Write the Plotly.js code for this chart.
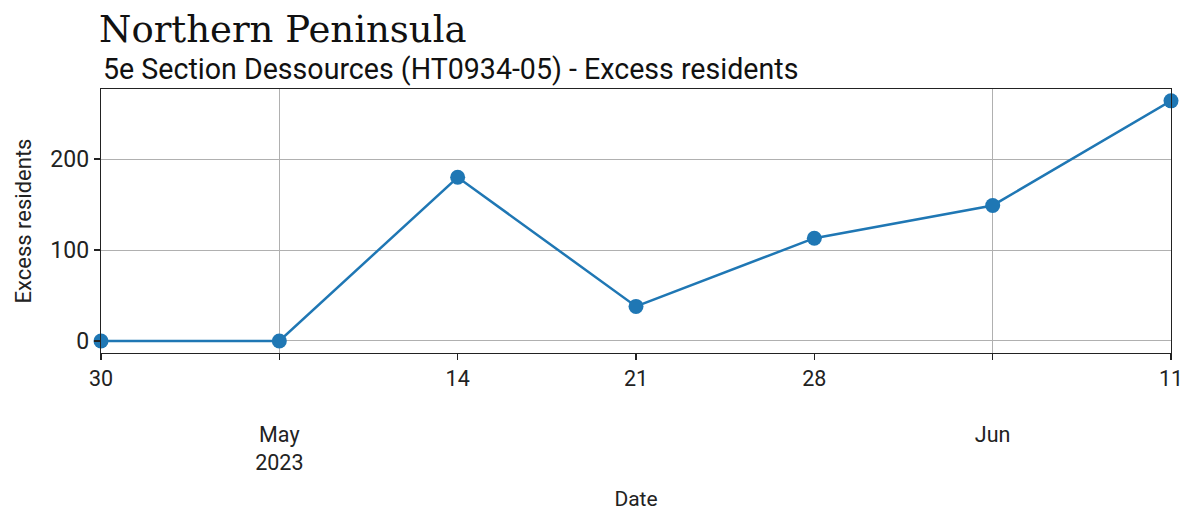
<!DOCTYPE html>
<html>
<head>
<meta charset="utf-8">
<script src="https://cdn.plot.ly/plotly-3.0.1.min.js"></script>
<style>html,body{margin:0;padding:0;background:#fff;}#chart{width:1190px;height:511px;}</style>
</head>
<body>
<div id="chart"></div>
<script>
const dates = ["2023-04-30", "2023-05-07", "2023-05-14", "2023-05-21", "2023-05-28", "2023-06-04", "2023-06-11"];
const excessResidents = [0, 0, 180, 38, 113, 149, 264];
const tickDates = ["2023-04-30", "2023-05-07", "2023-05-14", "2023-05-21", "2023-05-28", "2023-06-04", "2023-06-11"];
const tickLabels = ["30", "<br><br>May<br>2023", "14", "21", "28", "<br><br>Jun", "11"];
const majorGridDates = ["2023-05-07", "2023-06-04"];
const yTicks = [0, 100, 200];

const trace = {
  x: dates, y: excessResidents, type: "scatter", mode: "lines+markers",
  line: {color: "#1f77b4", width: 2.5},
  marker: {color: "#1f77b4", size: 15},
  cliponaxis: false, hoverinfo: "skip"
};

const layout = {
  width: 1190, height: 511,
  margin: {l: 101, r: 19, t: 89, b: 158},
  paper_bgcolor: "#fff", plot_bgcolor: "#fff",
  font: {family: "Roboto", size: 22, color: "#222"},
  showlegend: false,
  xaxis: {
    type: "date", range: ["2023-04-30", "2023-06-11"],
    tickmode: "array", tickvals: tickDates, ticktext: tickLabels,
    ticks: "outside", ticklen: 6, tickwidth: 1.2, tickcolor: "#222",
    showgrid: false, zeroline: false,
    showline: true, linecolor: "#222", linewidth: 1.3, mirror: true,
    tickfont: {family: "Roboto", size: 21.5, color: "#222"},
    minor: {tickmode: "array", tickvals: majorGridDates, ticks: "", showgrid: true, gridcolor: "#b0b0b0", gridwidth: 1},
    title: {text: "Date", font: {family: "Roboto", size: 21, color: "#222"}, standoff: 17}
  },
  yaxis: {
    range: [-13.2, 277],
    tickmode: "array", tickvals: yTicks,
    ticks: "outside", ticklen: 6, tickwidth: 1.2, tickcolor: "#222",
    showgrid: true, gridcolor: "#b0b0b0", gridwidth: 1, zeroline: false,
    showline: true, linecolor: "#222", linewidth: 1.3, mirror: true,
    tickfont: {family: "Roboto", size: 23, color: "#222"},
    title: {text: "Excess residents", font: {family: "Roboto", size: 22, color: "#222"}, standoff: 12}
  },
  annotations: [
    {text: "Northern Peninsula", xref: "paper", yref: "paper", x: 0, xshift: -4, y: 1, yshift: 36, xanchor: "left", yanchor: "bottom",
     showarrow: false, font: {family: "DejaVu Serif", size: 37, color: "#111"}},
    {text: "5e Section Dessources (HT0934-05) - Excess residents", xref: "paper", yref: "paper", x: 0, xshift: 0, y: 1, yshift: 1, xanchor: "left", yanchor: "bottom",
     showarrow: false, font: {family: "Roboto", size: 28.6, color: "#111"}}
  ]
};

Plotly.newPlot("chart", [trace], layout, {displayModeBar: false, staticPlot: true});
</script>
</body>
</html>
